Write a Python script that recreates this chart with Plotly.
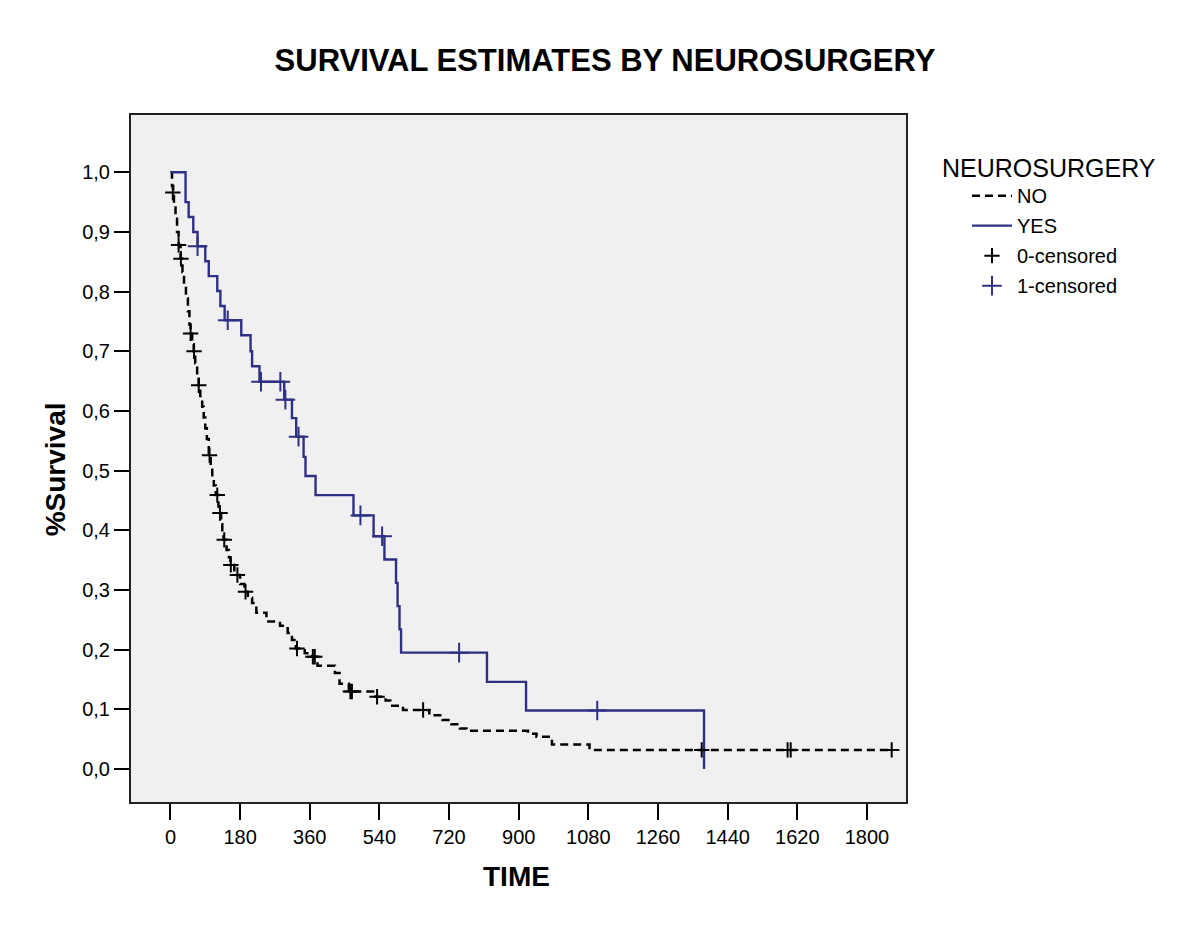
import plotly.graph_objects as go

# ---------------- data ----------------
# NEUROSURGERY = NO  (step points: time, survival after event)
no_time = [0, 4, 7, 9, 13, 17, 21, 26, 31, 35, 40, 45, 49, 52, 56, 60, 64, 69, 73,
           77, 82, 86, 90, 94, 99, 104, 108, 112, 117, 124, 127, 131, 134, 137, 145,
           151, 155, 165, 172, 180, 191, 200, 211, 222, 248, 283, 303, 314, 324, 347,
           366, 380, 425, 437, 461, 530, 556, 568, 601, 669, 703, 726, 748, 765, 924,
           946, 986, 1083, 1864]
no_surv = [1.0, 0.977, 0.966, 0.944, 0.922, 0.900, 0.878, 0.855, 0.833, 0.811, 0.789,
           0.767, 0.745, 0.730, 0.712, 0.700, 0.680, 0.660, 0.643, 0.625, 0.607, 0.589,
           0.571, 0.553, 0.526, 0.508, 0.490, 0.475, 0.459, 0.440, 0.429, 0.410, 0.395,
           0.384, 0.367, 0.355, 0.342, 0.333, 0.325, 0.310, 0.297, 0.287, 0.278, 0.262,
           0.247, 0.240, 0.228, 0.216, 0.202, 0.194, 0.188, 0.173, 0.161, 0.143, 0.130,
           0.121, 0.115, 0.106, 0.099, 0.090, 0.082, 0.075, 0.068, 0.064, 0.059, 0.054,
           0.041, 0.032, 0.032]
no_cens_time = [6, 21, 27, 52, 61, 73, 101, 121, 128, 139, 156, 173, 194, 327, 368, 373,
                465, 469, 534, 653, 1373, 1595, 1603, 1864]
no_cens_surv = [0.966, 0.878, 0.855, 0.730, 0.700, 0.643, 0.526, 0.459, 0.429, 0.384,
                0.342, 0.325, 0.297, 0.202, 0.188, 0.188, 0.130, 0.130, 0.121, 0.099,
                0.032, 0.032, 0.032, 0.032]

# NEUROSURGERY = YES
yes_time = [0, 39, 47, 59, 70, 90, 99, 121, 129, 140, 183, 207, 211, 230, 294, 314, 325,
            344, 349, 375, 473, 525, 553, 583, 587, 592, 596, 818, 919, 1379]
yes_surv = [1.0, 0.950, 0.925, 0.900, 0.876, 0.851, 0.826, 0.801, 0.776, 0.752, 0.727,
            0.700, 0.675, 0.649, 0.619, 0.588, 0.557, 0.523, 0.491, 0.459, 0.425, 0.390,
            0.351, 0.312, 0.273, 0.234, 0.195, 0.146, 0.098, 0.0]
yes_cens_time = [70, 148, 234, 284, 297, 331, 491, 547, 746, 1103]
yes_cens_surv = [0.876, 0.752, 0.649, 0.649, 0.619, 0.557, 0.425, 0.390, 0.195, 0.098]

x_ticks = [0, 180, 360, 540, 720, 900, 1080, 1260, 1440, 1620, 1800]
y_ticks = [0.0, 0.1, 0.2, 0.3, 0.4, 0.5, 0.6, 0.7, 0.8, 0.9, 1.0]
y_tick_text = ["0,0", "0,1", "0,2", "0,3", "0,4", "0,5", "0,6", "0,7", "0,8", "0,9", "1,0"]

NAVY = "#2E3183"
FONT = "Liberation Sans, Arial, sans-serif"
W, H = 1184, 916  # page body has an 8px margin

fig = go.Figure()
fig.add_trace(go.Scatter(x=no_time, y=no_surv, mode="lines", name="NO", legendgroup="a",
                         line=dict(color="black", width=2.5, dash="8px,5px", shape="hv")))
fig.add_trace(go.Scatter(x=yes_time, y=yes_surv, mode="lines", name="YES", legendgroup="b",
                         line=dict(color=NAVY, width=2.4, shape="hv")))
fig.add_trace(go.Scatter(x=no_cens_time, y=no_cens_surv, mode="markers", name="0-censored",
                         legendgroup="c",
                         marker=dict(symbol="cross-thin", size=11, color="black",
                                     line=dict(color="black", width=2))))
fig.add_trace(go.Scatter(x=yes_cens_time, y=yes_cens_surv, mode="markers", name="1-censored",
                         legendgroup="d",
                         marker=dict(symbol="cross-thin", size=14, color=NAVY,
                                     line=dict(color=NAVY, width=2))))

fig.update_layout(
    width=W, height=H,
    margin=dict(l=123, r=286, t=107, b=122),
    paper_bgcolor="white", plot_bgcolor="#F0F0F0",
    font=dict(family=FONT, color="black", size=17),
    title=dict(text="<b>SURVIVAL ESTIMATES BY NEUROSURGERY</b>", x=597 / W, xanchor="center",
               y=1 - 52 / H, yanchor="middle", font=dict(size=31, family=FONT)),
    showlegend=True,
    legend=dict(x=1.0787, xanchor="left", y=0.911, yanchor="top",
                font=dict(size=20, family=FONT), tracegroupgap=1,
                bgcolor="rgba(0,0,0,0)", itemwidth=40),
    xaxis=dict(range=[-102, 1901], tickvals=x_ticks, ticktext=[str(v) for v in x_ticks],
               ticks="outside", ticklen=16, tickwidth=2, tickcolor="black",
               showline=True, linecolor="#222", linewidth=2, mirror=True,
               showgrid=False, zeroline=False, tickfont=dict(size=20)),
    yaxis=dict(range=[-0.0553, 1.096], tickvals=y_ticks, ticktext=y_tick_text,
               ticks="outside", ticklen=15, tickwidth=2, tickcolor="black",
               showline=True, linecolor="#222", linewidth=2, mirror=True,
               showgrid=False, zeroline=False, tickfont=dict(size=20)),
    annotations=[
        dict(text="NEUROSURGERY", xref="paper", yref="paper", x=1.0439, y=0.9229,
             xanchor="left", yanchor="middle", showarrow=False,
             font=dict(size=25, family=FONT)),
        dict(text="<b>TIME</b>", xref="paper", yref="paper", x=0.498, y=-0.1087,
             xanchor="center", yanchor="middle", showarrow=False,
             font=dict(size=28, family=FONT)),
        dict(text="<b>%Survival</b>", xref="paper", yref="paper", x=-0.0974, y=0.4835,
             xanchor="center", yanchor="middle", showarrow=False, textangle=-90,
             font=dict(size=28, family=FONT)),
    ],
)

fig.write_html("out.html")
